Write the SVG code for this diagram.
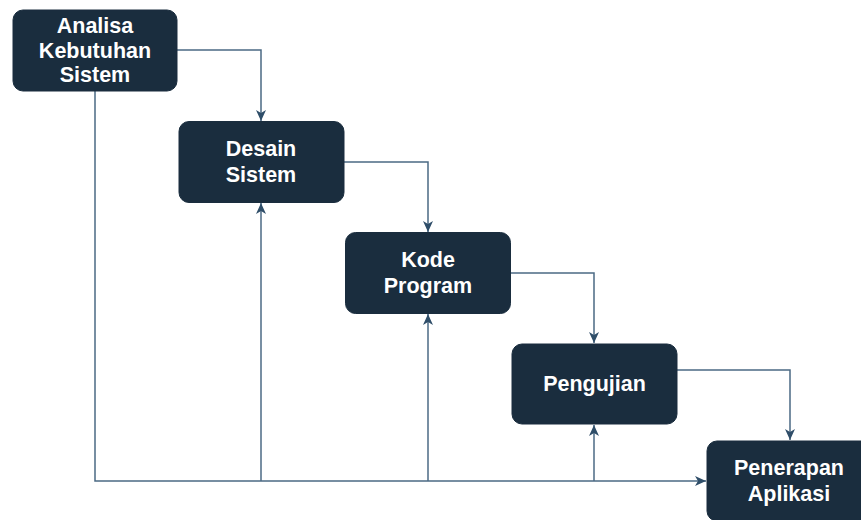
<svg xmlns="http://www.w3.org/2000/svg" width="861" height="520" viewBox="0 0 861 520">
<style>
.box{fill:#1a2d3e;stroke:#1a2d3e;stroke-width:1}
.t{font-family:"Liberation Sans",Arial,sans-serif;font-weight:bold;font-size:21.5px;fill:#ffffff;text-anchor:middle}
.e{fill:none;stroke:#4b6a84;stroke-width:1.5}
</style>
<defs>
<marker id="arr" markerUnits="userSpaceOnUse" markerWidth="13" markerHeight="12" refX="11" refY="5.5" orient="auto">
<path d="M0,0.5 L11,5.5 L0,10.5 L3,5.5 z" fill="#2f4e69"/>
</marker>
</defs>
<rect width="861" height="520" fill="#ffffff"/>
<g id="connectors">
<path class="e" d="M177,50 H261 V121" marker-end="url(#arr)"/>
<path class="e" d="M344,162 H428 V232" marker-end="url(#arr)"/>
<path class="e" d="M510,273 H594 V343" marker-end="url(#arr)"/>
<path class="e" d="M677,370 H790 V440" marker-end="url(#arr)"/>
<path class="e" d="M95,91 V481 H706" marker-end="url(#arr)"/>
<path class="e" d="M261,481 V203" marker-end="url(#arr)"/>
<path class="e" d="M428,481 V314" marker-end="url(#arr)"/>
<path class="e" d="M594,481 V425" marker-end="url(#arr)"/>
</g>
<g id="analisa">
<rect class="box" x="13" y="10" width="164" height="81" rx="10"/>
<text class="t" x="95" y="33">Analisa</text>
<text class="t" x="95" y="57.5">Kebutuhan</text>
<text class="t" x="95" y="82">Sistem</text>
</g>
<g id="desain">
<rect class="box" x="179" y="121.5" width="165" height="81" rx="10"/>
<text class="t" x="261" y="156">Desain</text>
<text class="t" x="261" y="182">Sistem</text>
</g>
<g id="kode">
<rect class="box" x="345.5" y="232.5" width="165" height="81" rx="10"/>
<text class="t" x="428" y="267">Kode</text>
<text class="t" x="428" y="293">Program</text>
</g>
<g id="pengujian">
<rect class="box" x="512" y="344" width="165" height="80" rx="10"/>
<text class="t" x="594.5" y="390.5">Pengujian</text>
</g>
<g id="penerapan">
<rect class="box" x="707" y="441" width="165" height="80" rx="10"/>
<text class="t" x="789" y="475">Penerapan</text>
<text class="t" x="789" y="501">Aplikasi</text>
</g>
</svg>
